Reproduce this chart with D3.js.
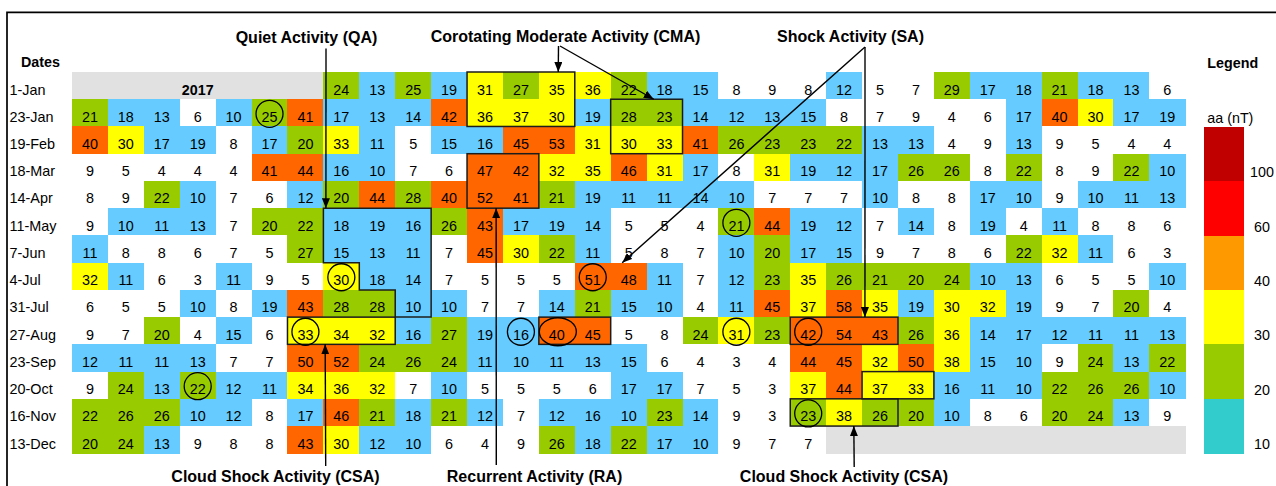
<!DOCTYPE html>
<html>
<head>
<meta charset="utf-8">
<script src="https://cdn.jsdelivr.net/npm/d3@7"></script>
<style>
  html, body { margin: 0; padding: 0; background: #fff; }
  svg { display: block; font-family: "Liberation Sans", Arial, Helvetica, sans-serif; }
</style>
</head>
<body>
<svg id="chart" width="1276" height="486"></svg>
<script>
// Start date of each 27-day rotation row
const dates = ["1-Jan", "23-Jan", "19-Feb", "18-Mar", "14-Apr", "11-May", "7-Jun",
               "4-Jul", "31-Jul", "27-Aug", "23-Sep", "20-Oct", "16-Nov", "13-Dec"];

const yearLabel = "2017";

// Daily aa index (nT), one array per row; null = outside the year
const _ = null;
const aaJan01 = [_, _, _, _, _, _, _, 24, 13, 25, 19, 31, 27, 35, 36, 22, 18, 15, 8, 9, 8, 12, 5, 7, 29, 17, 18, 21, 18, 13, 6];
const aaJan23 = [21, 18, 13, 6, 10, 25, 41, 17, 13, 14, 42, 36, 37, 30, 19, 28, 23, 14, 12, 13, 15, 8, 7, 9, 4, 6, 17, 40, 30, 17, 19];
const aaFeb19 = [40, 30, 17, 19, 8, 17, 20, 33, 11, 5, 15, 16, 45, 53, 31, 30, 33, 41, 26, 23, 23, 22, 13, 13, 4, 9, 13, 9, 5, 4, 4];
const aaMar18 = [9, 5, 4, 4, 4, 41, 44, 16, 10, 7, 6, 47, 42, 32, 35, 46, 31, 17, 8, 31, 19, 12, 17, 26, 26, 8, 22, 8, 9, 22, 10];
const aaApr14 = [8, 9, 22, 10, 7, 6, 12, 20, 44, 28, 40, 52, 41, 21, 19, 11, 11, 14, 10, 7, 7, 7, 10, 8, 8, 17, 10, 9, 10, 11, 13];
const aaMay11 = [9, 10, 11, 13, 7, 20, 22, 18, 19, 16, 26, 43, 17, 19, 14, 5, 5, 4, 21, 44, 19, 12, 7, 14, 8, 19, 4, 11, 8, 8, 6];
const aaJun07 = [11, 8, 8, 6, 7, 5, 27, 15, 13, 11, 7, 45, 30, 22, 11, 5, 8, 7, 10, 20, 17, 15, 9, 7, 8, 6, 22, 32, 11, 6, 3];
const aaJul04 = [32, 11, 6, 3, 11, 9, 5, 30, 18, 14, 7, 5, 5, 5, 51, 48, 11, 7, 12, 23, 35, 26, 21, 20, 24, 10, 13, 6, 5, 5, 10];
const aaJul31 = [6, 5, 5, 10, 8, 19, 43, 28, 28, 10, 10, 7, 7, 14, 21, 15, 10, 4, 11, 45, 37, 58, 35, 19, 30, 32, 19, 9, 7, 20, 4];
const aaAug27 = [9, 7, 20, 4, 15, 6, 33, 34, 32, 16, 27, 19, 16, 40, 45, 5, 8, 24, 31, 23, 42, 54, 43, 26, 36, 14, 17, 12, 11, 11, 13];
const aaSep23 = [12, 11, 11, 13, 7, 7, 50, 52, 24, 26, 24, 11, 10, 11, 13, 15, 6, 4, 3, 4, 44, 45, 32, 50, 38, 15, 10, 9, 24, 13, 22];
const aaOct20 = [9, 24, 13, 22, 12, 11, 34, 36, 32, 7, 10, 5, 5, 5, 6, 17, 17, 7, 5, 3, 37, 44, 37, 33, 16, 11, 10, 22, 26, 26, 10];
const aaNov16 = [22, 26, 26, 10, 12, 8, 17, 46, 21, 18, 21, 12, 7, 12, 16, 10, 23, 14, 9, 3, 23, 38, 26, 20, 10, 8, 6, 20, 24, 13, 9];
const aaDec13 = [20, 24, 13, 9, 8, 8, 43, 30, 12, 10, 6, 4, 9, 26, 18, 22, 17, 10, 9, 7, 7, _, _, _, _, _, _, _, _, _, _];

const aaRows = [aaJan01, aaJan23, aaFeb19, aaMar18, aaApr14, aaMay11, aaJun07,
                aaJul04, aaJul31, aaAug27, aaSep23, aaOct20, aaNov16, aaDec13];

// Cell colouring by aa class
const cellBreaks = [10, 20, 30, 40];
const cellColors = ["#FFFFFF", "#66CCFF", "#99CC00", "#FFFF00", "#FF6600"];
const emptyColor = "#E1E1E1";

// Colour legend (top to bottom)
const legendTicks = ["100", "60", "40", "30", "20", "10"];
const legendColors = ["#C00000", "#FF0000", "#FF9900", "#FFFF00", "#99CC00", "#33CCCC"];

// Highlighted events: [row, col]
const circledCells = [[1, 5], [5, 18], [7, 7], [7, 14], [9, 6], [9, 12], [9, 18], [9, 20], [11, 3], [12, 20]];
const ovalCells = [[9, 13]];

// Outlined blocks: rows r0..r1, cols c0..c1
const outlinedBlocks = [
  { r0: 0, r1: 1, c0: 11, c1: 13 },
  { r0: 1, r1: 2, c0: 15, c1: 16 },
  { r0: 3, r1: 4, c0: 11, c1: 12 },
  { r0: 9, r1: 9, c0: 6, c1: 8 },
  { r0: 9, r1: 9, c0: 13, c1: 14 },
  { r0: 9, r1: 9, c0: 20, c1: 22 },
  { r0: 11, r1: 11, c0: 22, c1: 23 },
  { r0: 12, r1: 12, c0: 20, c1: 22 }
];
// Quiet interval outline, vertices in [col, row] grid units
const quietOutline = [[7, 5], [10, 5], [10, 9], [9, 9], [9, 8], [8, 8], [8, 7], [7, 7]];

// ---------------------------------------------------------------------------
const svg = d3.select("#chart");
const nCols = aaRows[0].length;

const x = d3.scaleBand().domain(d3.range(nCols)).range([72, 1185.3]).padding(0);
const y = d3.scaleBand().domain(dates).range([72, 453.3]).padding(0);
const bw = x.bandwidth(), bh = y.bandwidth();
const gx = c => x.range()[0] + c * bw;        // grid column -> px
const gy = r => y.range()[0] + r * bh;        // grid row -> px
const color = d3.scaleThreshold().domain(cellBreaks).range(cellColors);

// outer frame
svg.append("path")
  .attr("d", "M7,490V12.3H1280")
  .attr("fill", "none").attr("stroke", "#000").attr("stroke-width", 1.7);

// cells
const cells = [];
aaRows.forEach((row, r) => row.forEach((v, c) => cells.push({ r, c, v })));

const gCells = svg.append("g").attr("shape-rendering", "crispEdges");
gCells.selectAll("rect").data(cells).join("rect")
  .attr("x", d => x(d.c))
  .attr("y", d => y(dates[d.r]))
  .attr("width", bw + 0.4)
  .attr("height", bh + 0.4)
  .attr("fill", d => d.v == null ? emptyColor : color(d.v));

const fontNum = 14.4;
svg.append("g").selectAll("text").data(cells.filter(d => d.v != null)).join("text")
  .attr("x", d => x(d.c) + bw / 2)
  .attr("y", d => y(dates[d.r]) + bh - 4.7)
  .attr("text-anchor", "middle")
  .attr("font-size", fontNum)
  .attr("fill", "#000")
  .text(d => d.v);

// year tag inside the leading empty block
const firstFilled = aaRows[0].findIndex(v => v != null);
svg.append("text")
  .attr("x", (gx(0) + gx(firstFilled)) / 2)
  .attr("y", y(dates[0]) + bh - 4.7)
  .attr("text-anchor", "middle")
  .attr("font-size", 14.3).attr("font-weight", "bold")
  .text(yearLabel);

// row labels
svg.append("text").attr("x", 21).attr("y", 67.3)
  .attr("font-size", 14.3).attr("font-weight", "bold").text("Dates");
svg.append("g").selectAll("text").data(dates).join("text")
  .attr("x", 9.5)
  .attr("y", d => y(d) + bh - 4.7)
  .attr("font-size", fontNum)
  .text(d => d);

// outlined blocks
const outlineStroke = "#1c1c1c";
svg.append("g").selectAll("rect").data(outlinedBlocks).join("rect")
  .attr("x", d => gx(d.c0))
  .attr("y", d => gy(d.r0))
  .attr("width", d => gx(d.c1 + 1) - gx(d.c0))
  .attr("height", d => gy(d.r1 + 1) - gy(d.r0))
  .attr("fill", "none").attr("stroke", outlineStroke).attr("stroke-width", 1.5);

svg.append("path")
  .attr("d", d3.line().x(p => gx(p[0])).y(p => gy(p[1])).curve(d3.curveLinearClosed)(quietOutline))
  .attr("fill", "none").attr("stroke", outlineStroke).attr("stroke-width", 1.5);

// circled days
svg.append("g").selectAll("circle").data(circledCells).join("circle")
  .attr("cx", d => gx(d[1] + 0.5))
  .attr("cy", d => gy(d[0] + 0.5) + 1)
  .attr("r", 13.5)
  .attr("fill", "none").attr("stroke", "#000").attr("stroke-width", 1.3);
svg.append("g").selectAll("ellipse").data(ovalCells).join("ellipse")
  .attr("cx", d => gx(d[1] + 0.5) + 1)
  .attr("cy", d => gy(d[0] + 0.5) + 1)
  .attr("rx", 18.5).attr("ry", 14)
  .attr("fill", "none").attr("stroke", "#000").attr("stroke-width", 1.3);

// annotation arrows
const defs = svg.append("defs");
defs.append("marker")
  .attr("id", "head").attr("viewBox", "0 0 10 8")
  .attr("refX", 10).attr("refY", 4)
  .attr("markerWidth", 10).attr("markerHeight", 8)
  .attr("markerUnits", "userSpaceOnUse")
  .attr("orient", "auto")
  .append("path").attr("d", "M0,0L10,4L0,8Z").attr("fill", "#000");

// Arrow segments: from (px) to grid point [col, row]
const arrows = [
  { from: [326, 48.5], to: [7.07, 5] },     // QA
  { from: [558.5, 46], to: [13.54, 0] },    // CMA
  { from: [560, 46], to: [16.2, 1] },       // CMA
  { from: [865, 47], to: [15.32, 7] },      // SA
  { from: [865, 47], to: [22.08, 9] },      // SA
  { from: [325.7, 466], to: [7.05, 10] },   // CSA
  { from: [496.3, 465], to: [11.81, 5] },   // RA
  { from: [854.2, 467], to: [21.77, 13] }   // CSA
];
svg.append("g").selectAll("line").data(arrows).join("line")
  .attr("x1", d => d.from[0]).attr("y1", d => d.from[1])
  .attr("x2", d => gx(d.to[0])).attr("y2", d => gy(d.to[1]))
  .attr("stroke", "#000").attr("stroke-width", 1.4)
  .attr("marker-end", "url(#head)");

const labels = [
  { text: "Quiet Activity (QA)", x: 306.5, y: 43.3 },
  { text: "Corotating Moderate Activity (CMA)", x: 565.5, y: 42.3 },
  { text: "Shock Activity (SA)", x: 850.5, y: 42.3 },
  { text: "Cloud Shock Activity (CSA)", x: 275.5, y: 482 },
  { text: "Recurrent Activity (RA)", x: 534.5, y: 482 },
  { text: "Cloud Shock Activity (CSA)", x: 844, y: 482 }
];
svg.append("g").selectAll("text").data(labels).join("text")
  .attr("x", d => d.x).attr("y", d => d.y)
  .attr("text-anchor", "middle")
  .attr("font-size", 16).attr("font-weight", "bold")
  .text(d => d.text);

// legend
const lx = 1204, lw = 40;
const ly = d3.scaleBand().domain(legendTicks).range([127, 453]).padding(0);
svg.append("text").attr("x", 1207.3).attr("y", 68)
  .attr("font-size", 14.3).attr("font-weight", "bold").text("Legend");
svg.append("text").attr("x", 1207.3).attr("y", 123)
  .attr("font-size", 14.3).text("aa (nT)");
const gL = svg.append("g").attr("shape-rendering", "crispEdges");
gL.selectAll("rect").data(legendTicks).join("rect")
  .attr("x", lx).attr("y", d => ly(d))
  .attr("width", lw).attr("height", ly.bandwidth() + 0.5)
  .attr("fill", (d, i) => legendColors[i]);
svg.append("g").selectAll("text").data(legendTicks).join("text")
  .attr("x", 1262).attr("y", d => ly(d) + ly.bandwidth() - 4)
  .attr("text-anchor", "middle")
  .attr("font-size", 14.3)
  .text(d => d);
</script>
</body>
</html>
